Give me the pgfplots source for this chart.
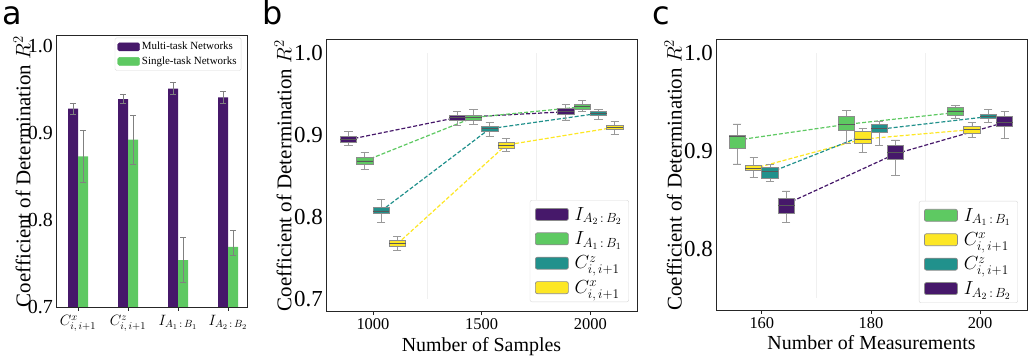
\documentclass[border=0pt]{standalone}
\usepackage{fix-cm}
\usepackage{fontspec}
\setmainfont{Liberation Serif}
\newfontfamily\lettersf{DejaVu Sans}
\usepackage{pgfplots}
\pgfplotsset{compat=1.18}
\usepgfplotslibrary{statistics}
\definecolor{vpurple}{HTML}{46186A}
\definecolor{vgreen}{HTML}{5EC962}
\definecolor{vteal}{HTML}{21918C}
\definecolor{vyellow}{HTML}{FDE725}
\pgfplotsset{
  common/.style={scale only axis, axis line style={black!85,line width=1bp},
    tick style={black!85, line width=0.8bp}, major tick length=4bp, tick align=outside,
    xtick pos=left, ytick pos=left, /pgf/number format/assume math mode=true,
    ytick style={draw=none},
    every axis y label/.style={rotate=90, anchor=center, font=\fontsize{21}{21}\selectfont},
    every axis x label/.style={anchor=base, font=\fontsize{20}{20}\selectfont},
    yticklabel style={/pgf/number format/fixed, /pgf/number format/precision=1, /pgf/number format/fixed zerofill, inner xsep=0pt, xshift=1bp},
    boxplot/draw direction=y,
  },
  boxleg/.style={legend image code/.code={\draw[fill=#1,draw=gray!90,line width=0.7bp] (0bp,-6bp) rectangle (33bp,6bp);}},
  barleg/.style={legend image code/.code={\fill[#1] (0bp,-4bp) rectangle (22bp,4bp);}},
}
\newcommand{\bx}[7]{\addplot[forget plot, fill=#1, draw=gray!90, line width=0.7bp,
  boxplot prepared={draw position=#2, lower whisker=#3, lower quartile=#4, median=#5, upper quartile=#6, upper whisker=#7}] coordinates {};}
\begin{document}
\begin{tikzpicture}
\useasboundingbox (0,0) rectangle (1028bp,357bp);
\node[anchor=base west, font=\lettersf\fontsize{32}{32}\selectfont, inner sep=0] at (2bp,332bp) {a};
\node[anchor=base west, font=\lettersf\fontsize{32}{32}\selectfont, inner sep=0] at (262bp,332bp) {b};
\node[anchor=base west, font=\lettersf\fontsize{32}{32}\selectfont, inner sep=0] at (652bp,332bp) {c};

% ---------------- panel a
\begin{axis}[common, at={(56bp,50bp)}, anchor=south west, width=191bp, height=271bp,
  xmin=-0.44, xmax=3.38, ymin=0.7, ymax=1.0115, ytick={0.7,0.8,0.9,1.0},
  xtick={0,1,2,3},
  xticklabels={{$C^{x}_{i,\,i+1}$},{$C^{z}_{i,\,i+1}$},{$I_{A_1\,:\,B_1}$},{$I_{A_2\,:\,B_2}$}},
  xticklabel style={font=\fontsize{15}{15}\selectfont, yshift=-1bp},
  yticklabel style={font=\fontsize{20}{20}\selectfont},
  ylabel={Coefficient of Determination $R^2$},
  every axis y label/.append style={at={(axis description cs:-0.178,0.5)}},
  ybar, bar width=10bp,
  legend style={at={(axis description cs:0.97,0.994)}, anchor=north east, draw=gray!30, rounded corners=1.5bp,
    font=\fontsize{11}{12}\selectfont, row sep=1.5bp, inner sep=2.5bp},
  legend cell align=left,
  error bars/error bar style={gray, line width=0.6bp},
  error bars/error mark options={rotate=90, gray, mark size=3bp, line width=0.6bp},
]
\addplot[fill=vpurple, draw=none, bar shift=-5bp, forget plot,
  error bars/.cd, y dir=both, y explicit]
  coordinates {(0,0.928) +- (0,0.0067) (1,0.939) +- (0,0.0053) (2,0.951) +- (0,0.0068) (3,0.941) +- (0,0.0072)};
\addplot[fill=vgreen, draw=none, bar shift=5bp, forget plot,
  error bars/.cd, y dir=both, y explicit]
  coordinates {(0,0.873) +- (0,0.030) (1,0.8925) +- (0,0.028) (2,0.754) +- (0,0.026) (3,0.769) += (0,0.019) -= (0,0.009)};
\addlegendimage{barleg=vpurple}\addlegendentry{Multi-task Networks}
\addlegendimage{barleg=vgreen}\addlegendentry{Single-task Networks}
\end{axis}

% ---------------- panel b  (x in hundreds of samples)
\begin{axis}[common, at={(326bp,46bp)}, anchor=south west, width=311bp, height=271bp,
  xmin=7.84, xmax=22.15, ymin=0.685, ymax=1.0155, ytick={0.7,0.8,0.9,1.0},
  xtick={10,15,20}, xticklabels={1000,1500,2000}, xticklabel style={font=\fontsize{16.5}{16.5}\selectfont},
  yticklabel style={font=\fontsize{23}{23}\selectfont},
  ylabel={Coefficient of Determination $R^2$},
  every axis y label/.append style={at={(axis description cs:-0.138,0.5)}},
  xlabel={Number of Samples},
  every axis x label/.append style={at={(axis description cs:0.5,-0.1476)}},
  boxplot/box extend=0.75, boxplot/whisker extend=0.375,
  boxplot/every whisker/.style={gray!80, line width=0.7bp},
  boxplot/every median/.style={gray!70!black, line width=0.8bp},
  legend style={at={(axis description cs:0.974,0.033)}, anchor=south east, draw=gray!30, rounded corners=2bp,
    font=\fontsize{19}{21}\selectfont, row sep=6bp, column sep=4bp, inner sep=5bp},
  legend cell align=left,
]
\addplot[forget plot, gray!12, line width=0.8bp] coordinates {(12.5,0.7) (12.5,1.0)};
\addplot[forget plot, gray!12, line width=0.8bp] coordinates {(17.5,0.7) (17.5,1.0)};
\addplot[forget plot, vpurple, dash pattern=on 4bp off 2bp, line width=1.2bp] coordinates {(8.875,0.894) (13.875,0.921) (18.875,0.928)};
\addplot[forget plot, vgreen, dash pattern=on 4bp off 2bp, line width=1.2bp] coordinates {(9.625,0.868) (14.625,0.921) (19.625,0.934)};
\addplot[forget plot, vteal, dash pattern=on 4bp off 2bp, line width=1.2bp] coordinates {(10.375,0.807) (15.375,0.9073) (20.375,0.926)};
\addplot[forget plot, vyellow, dash pattern=on 4bp off 2bp, line width=1.2bp] coordinates {(11.125,0.767) (16.125,0.8874) (21.125,0.909)};
\bx{vpurple}{8.875}{0.8874}{0.8907}{0.894}{0.8976}{0.9037}
\bx{vpurple}{13.875}{0.911}{0.918}{0.921}{0.924}{0.928}
\bx{vpurple}{18.875}{0.918}{0.9252}{0.928}{0.9322}{0.937}
\bx{vgreen}{9.625}{0.858}{0.864}{0.868}{0.872}{0.878}
\bx{vgreen}{14.625}{0.9126}{0.918}{0.921}{0.924}{0.931}
\bx{vgreen}{19.625}{0.928}{0.931}{0.934}{0.937}{0.9415}
\bx{vteal}{10.375}{0.793}{0.8037}{0.807}{0.8118}{0.821}
\bx{vteal}{15.375}{0.8976}{0.9037}{0.9073}{0.9106}{0.9146}
\bx{vteal}{20.375}{0.919}{0.9237}{0.926}{0.928}{0.931}
\bx{vyellow}{11.125}{0.759}{0.7638}{0.767}{0.7707}{0.776}
\bx{vyellow}{16.125}{0.8801}{0.8838}{0.8874}{0.8911}{0.8951}
\bx{vyellow}{21.125}{0.9005}{0.9066}{0.909}{0.9115}{0.9167}
\addlegendimage{boxleg=vpurple}\addlegendentry{$I_{A_2\,:\,B_2}$}
\addlegendimage{boxleg=vgreen}\addlegendentry{$I_{A_1\,:\,B_1}$}
\addlegendimage{boxleg=vteal}\addlegendentry{$C^{z}_{i,\,i+1}$}
\addlegendimage{boxleg=vyellow}\addlegendentry{$C^{x}_{i,\,i+1}$}
\end{axis}

% ---------------- panel c
\begin{axis}[common, at={(716bp,47bp)}, anchor=south west, width=311bp, height=270bp,
  xmin=151.6, xmax=208.6, ymin=0.738, ymax=1.0129, ytick={0.8,0.9,1.0},
  xtick={160,180,200}, xticklabel style={font=\fontsize{16.5}{16.5}\selectfont},
  yticklabel style={font=\fontsize{23}{23}\selectfont},
  ylabel={Coefficient of Determination $R^2$},
  every axis y label/.append style={at={(axis description cs:-0.138,0.5)}},
  xlabel={Number of Measurements},
  every axis x label/.append style={at={(axis description cs:0.5,-0.148)}},
  boxplot/box extend=3, boxplot/whisker extend=1.5,
  boxplot/every whisker/.style={gray!80, line width=0.7bp},
  boxplot/every median/.style={gray!70!black, line width=0.8bp},
  legend style={at={(axis description cs:0.971,0.026)}, anchor=south east, draw=gray!30, rounded corners=2bp,
    font=\fontsize{19}{21}\selectfont, row sep=6bp, column sep=4bp, inner sep=5bp},
  legend cell align=left,
]
\addplot[forget plot, gray!12, line width=0.8bp] coordinates {(170,0.75) (170,1.0)};
\addplot[forget plot, gray!12, line width=0.8bp] coordinates {(190,0.75) (190,1.0)};
\addplot[forget plot, vgreen, dash pattern=on 4bp off 2bp, line width=1.2bp] coordinates {(155.5,0.911) (175.5,0.927) (195.5,0.939)};
\addplot[forget plot, vyellow, dash pattern=on 4bp off 2bp, line width=1.2bp] coordinates {(158.5,0.882) (178.5,0.912) (198.5,0.9217)};
\addplot[forget plot, vteal, dash pattern=on 4bp off 2bp, line width=1.2bp] coordinates {(161.5,0.878) (181.5,0.922) (201.5,0.9349)};
\addplot[forget plot, vpurple, dash pattern=on 4bp off 2bp, line width=1.2bp] coordinates {(164.5,0.846) (184.5,0.897) (204.5,0.929)};
\bx{vgreen}{155.5}{0.8868}{0.9027}{0.915}{0.9163}{0.9274}
\bx{vgreen}{175.5}{0.9078}{0.9214}{0.9272}{0.9356}{0.941}
\bx{vgreen}{195.5}{0.9333}{0.9366}{0.9407}{0.9445}{0.9465}
\bx{vyellow}{158.5}{0.8732}{0.8797}{0.882}{0.8851}{0.8932}
\bx{vyellow}{178.5}{0.8983}{0.9078}{0.9122}{0.9196}{0.9227}
\bx{vyellow}{198.5}{0.9139}{0.918}{0.9217}{0.9247}{0.9292}
\bx{vteal}{161.5}{0.8685}{0.8722}{0.8789}{0.8834}{0.8858}
\bx{vteal}{181.5}{0.9054}{0.9186}{0.923}{0.9275}{0.930}
\bx{vteal}{201.5}{0.9292}{0.9329}{0.9349}{0.9373}{0.9424}
\bx{vpurple}{164.5}{0.827}{0.8366}{0.844}{0.8512}{0.8593}
\bx{vpurple}{184.5}{0.8753}{0.8916}{0.898}{0.9054}{0.9112}
\bx{vpurple}{204.5}{0.9125}{0.9254}{0.929}{0.9349}{0.9404}
\addlegendimage{boxleg=vgreen}\addlegendentry{$I_{A_1\,:\,B_1}$}
\addlegendimage{boxleg=vyellow}\addlegendentry{$C^{x}_{i,\,i+1}$}
\addlegendimage{boxleg=vteal}\addlegendentry{$C^{z}_{i,\,i+1}$}
\addlegendimage{boxleg=vpurple}\addlegendentry{$I_{A_2\,:\,B_2}$}
\end{axis}
\end{tikzpicture}
\end{document}
